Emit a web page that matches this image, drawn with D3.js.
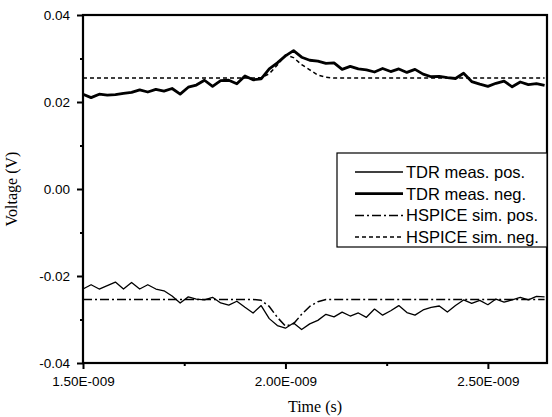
<!DOCTYPE html>
<html>
<head>
<meta charset="utf-8">
<script src="https://cdn.jsdelivr.net/npm/d3@7"></script>
<style>
  body { margin: 0; background: #fff; }
  svg { display: block; }
</style>
</head>
<body>
<svg width="552" height="417"></svg>
<script>
// time grid in ns, 20 ps steps
let times = d3.range(0, 58).map((i) => 1.5 + i * 0.02);

// voltages in mV
let measPos = [-23.0, -22.0, -23.0, -22.2, -21.4, -23.0, -21.5, -23.0, -22.0, -23.0,
  -23.4, -24.6, -26.2, -24.8, -25.3, -25.5, -24.9, -26.2, -26.7, -25.8,
  -27.2, -28.5, -26.8, -29.8, -31.4, -32.0, -30.8, -32.3, -31.0, -30.2,
  -28.8, -29.4, -28.3, -29.2, -28.5, -29.5, -27.6, -29.0, -28.0, -26.8,
  -28.4, -29.0, -27.8, -27.2, -26.9, -28.3, -26.8, -25.5, -26.3, -25.6,
  -26.6, -25.3, -26.0, -25.5, -24.9, -25.5, -24.7, -24.8];

let measNeg = [21.8, 21.0, 21.8, 21.6, 21.7, 22.0, 22.2, 22.8, 22.3, 22.9,
  22.5, 23.1, 21.8, 23.4, 23.9, 25.0, 23.6, 24.9, 25.0, 24.2,
  26.0, 25.1, 25.3, 27.6, 29.0, 30.6, 31.8, 30.3, 29.6, 29.4,
  28.9, 29.0, 27.5, 28.2, 27.6, 27.4, 26.9, 27.7, 27.0, 27.6,
  26.8, 27.5, 26.4, 25.8, 25.9, 25.6, 25.4, 26.6, 24.7, 24.1,
  23.6, 24.3, 24.8, 23.5, 24.6, 24.0, 24.2, 23.8];

let simPos = [-25.4, -25.4, -25.4, -25.4, -25.4, -25.4, -25.4, -25.4, -25.4, -25.4,
  -25.4, -25.4, -25.4, -25.4, -25.4, -25.4, -25.4, -25.4, -25.4, -25.4,
  -25.4, -25.4, -25.6, -27.0, -29.5, -31.5, -31.0, -28.8, -27.0, -25.9,
  -25.4, -25.4, -25.4, -25.4, -25.4, -25.4, -25.4, -25.4, -25.4, -25.4,
  -25.4, -25.4, -25.4, -25.4, -25.4, -25.4, -25.4, -25.4, -25.4, -25.4,
  -25.4, -25.4, -25.4, -25.4, -25.4, -25.4, -25.4, -25.4];

let simNeg = [25.5, 25.5, 25.5, 25.5, 25.5, 25.5, 25.5, 25.5, 25.5, 25.5,
  25.5, 25.5, 25.5, 25.5, 25.5, 25.5, 25.5, 25.5, 25.5, 25.5,
  25.5, 25.5, 25.6, 26.5, 28.5, 30.8, 30.2, 28.6, 27.4, 26.2,
  25.7, 25.5, 25.5, 25.5, 25.5, 25.5, 25.5, 25.5, 25.5, 25.5,
  25.5, 25.5, 25.5, 25.5, 25.5, 25.5, 25.5, 25.5, 25.5, 25.5,
  25.5, 25.5, 25.5, 25.5, 25.5, 25.5, 25.5, 25.5];

let yTicks = [-0.04, -0.02, 0, 0.02, 0.04];
let yTickLabels = ["-0.04", "-0.02", "0.00", "0.02", "0.04"];
let yMinor = [-0.03, -0.01, 0.01, 0.03];
let xTicks = [1.5e-9, 2.0e-9, 2.5e-9];
let xTickLabels = ["1.50E-009", "2.00E-009", "2.50E-009"];
let xMinor = [1.75e-9, 2.25e-9];

let seriesNames = ["TDR meas. pos.", "TDR meas. neg.", "HSPICE sim. pos.", "HSPICE sim. neg."];

let plotLeft = 83, plotRight = 547, plotTop = 15, plotBottom = 363;

let x = d3.scaleLinear().domain([1.5e-9, 2.646e-9]).range([plotLeft, plotRight]);
let y = d3.scaleLinear().domain([-0.04, 0.04]).range([plotBottom, plotTop]);

let svg = d3.select("svg");
let sansFont = "'Liberation Sans', Arial, sans-serif";
let serifFont = "'Liberation Serif', 'Times New Roman', serif";

let series = [
  { name: seriesNames[0], values: measPos, width: 1.3, dash: null },
  { name: seriesNames[1], values: measNeg, width: 2.8, dash: null },
  { name: seriesNames[2], values: simPos, width: 1.5, dash: "9,3,2,3" },
  { name: seriesNames[3], values: simNeg, width: 1.5, dash: "4,3" }
];

let line = d3.line()
  .x((d) => x(d[0] * 1e-9))
  .y((d) => y(d[1] / 1000));

svg.selectAll("path.series")
  .data(series)
  .enter()
  .append("path")
  .attr("class", "series")
  .attr("d", (s) => line(times.map((t, i) => [t, s.values[i]])))
  .attr("fill", "none")
  .attr("stroke", "#000")
  .attr("stroke-width", (s) => s.width)
  .attr("stroke-dasharray", (s) => s.dash)
  .attr("stroke-linejoin", "round");

// frame
svg.append("rect")
  .attr("x", plotLeft).attr("y", plotTop)
  .attr("width", plotRight - plotLeft).attr("height", plotBottom - plotTop)
  .attr("fill", "none").attr("stroke", "#000").attr("stroke-width", 2.2);

// y axis
svg.append("g")
  .attr("transform", `translate(${plotLeft},0)`)
  .call(d3.axisLeft(y).tickValues(yTicks).tickSize(6).tickPadding(7)
    .tickFormat((d, i) => yTickLabels[i]));
svg.append("g")
  .attr("transform", `translate(${plotLeft},0)`)
  .call(d3.axisLeft(y).tickValues(yMinor).tickSize(3).tickFormat(""));

// x axis
svg.append("g")
  .attr("transform", `translate(0,${plotBottom})`)
  .call(d3.axisBottom(x).tickValues(xTicks).tickSize(6).tickPadding(7)
    .tickFormat((d, i) => xTickLabels[i]));
svg.append("g")
  .attr("transform", `translate(0,${plotBottom})`)
  .call(d3.axisBottom(x).tickValues(xMinor).tickSize(3).tickFormat(""));

svg.selectAll(".domain").remove();
svg.selectAll(".tick line").attr("stroke", "#000").attr("stroke-width", 2);
svg.selectAll(".tick text")
  .attr("fill", "#000")
  .style("font-family", sansFont)
  .style("font-size", "13.5px");

// axis titles
svg.append("text")
  .attr("x", (plotLeft + plotRight) / 2)
  .attr("y", 412)
  .attr("text-anchor", "middle")
  .style("font-family", serifFont)
  .style("font-size", "16px")
  .text("Time (s)");

svg.append("text")
  .attr("transform", `translate(17,${(plotTop + plotBottom) / 2}) rotate(-90)`)
  .attr("text-anchor", "middle")
  .style("font-family", serifFont)
  .style("font-size", "16px")
  .text("Voltage (V)");

// legend
let legend = svg.append("g");
legend.append("rect")
  .attr("x", 337).attr("y", 153)
  .attr("width", plotRight - 337).attr("height", 94)
  .attr("fill", "#fff").attr("stroke", "#000").attr("stroke-width", 1.2);

let rows = legend.selectAll("g.row")
  .data(series)
  .enter()
  .append("g")
  .attr("class", "row")
  .attr("transform", (d, i) => `translate(0,${172 + i * 21.7})`);

rows.append("line")
  .attr("x1", 355).attr("x2", 403)
  .attr("stroke", "#000")
  .attr("stroke-width", (s) => s.width)
  .attr("stroke-dasharray", (s) => s.dash);

rows.append("text")
  .attr("x", 406)
  .attr("dy", "0.36em")
  .style("font-family", sansFont)
  .style("font-size", "16.5px")
  .text((s) => s.name);
</script>
</body>
</html>
